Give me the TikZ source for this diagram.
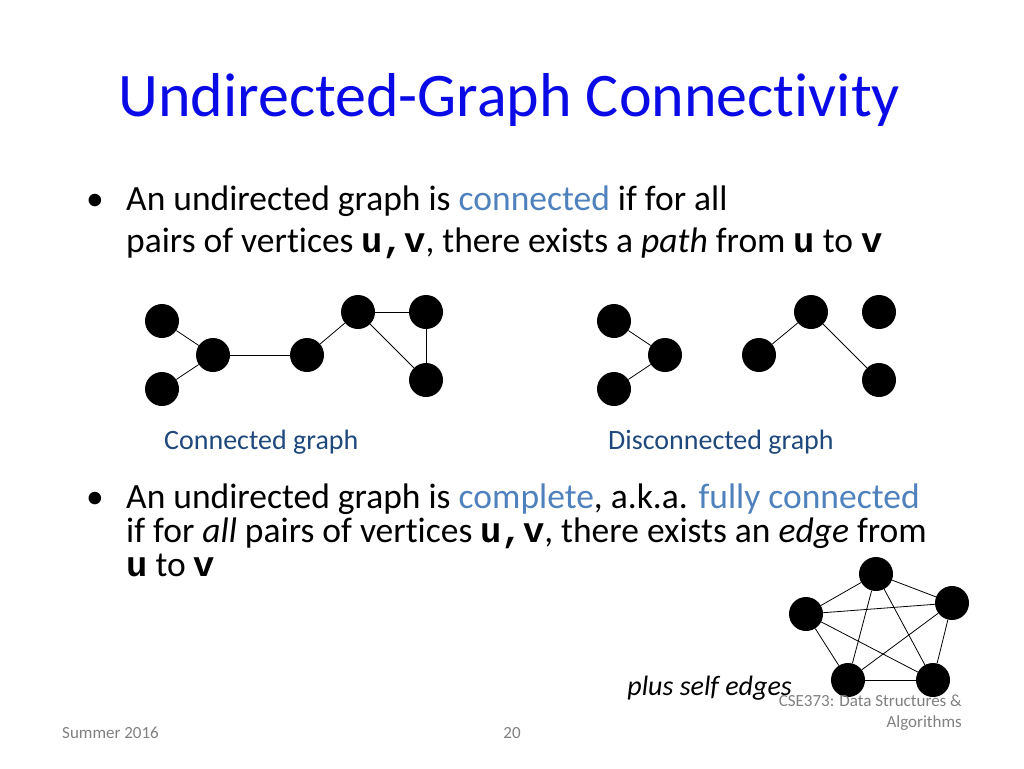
\documentclass[tikz,border=0pt]{standalone}
\usepackage{fontspec}
\setmainfont{Carlito}[Ligatures={NoCommon}]
\newfontfamily\courf{Liberation Mono}[BoldFont={* Bold}]
\definecolor{titleblue}{RGB}{10,10,230}
\definecolor{lblue}{RGB}{79,129,189}
\definecolor{dblue}{RGB}{31,73,125}
\begin{document}
\begin{tikzpicture}[x=1pt,y=-1pt,
  v/.style={circle,fill=black,minimum size=34pt,inner sep=0pt},
  body/.style={anchor=base west,inner sep=0pt,font=\fontsize{35.5}{40}\selectfont},
  lab/.style={anchor=base west,inner sep=0pt,text=dblue,font=\fontsize{28}{32}\selectfont},
  foot/.style={inner sep=0pt,text=gray,font=\fontsize{17}{21}\selectfont}]
\useasboundingbox (0,0) rectangle (1024,768);
\node[anchor=base west,inner sep=0pt,text=titleblue,font=\fontsize{62}{70}\selectfont] (title) at (118,116) {Undirected-Graph Connectivity};
\newcommand{\cd}[1]{{\courf\bfseries #1}}
\node[body] (b1) at (86,210) {•};
\node[body] (l1) at (126,210) {An undirected graph is \textcolor{lblue}{connected} if for all};
\node[body] (l2) at (126,252) {pairs of vertices \cd{u,v}, there exists a \textit{path} from \cd{u} to \cd{v}};
\foreach \n/\x/\y in {a/162/321,b/162/389,c/213/355,d/307/355,e/358/312,f/426/312,g/426/380,
 h/614/321,i/614/389,j/665/355,k/759/355,l/811/312,m/879/312,n/879/380,
 p/876/574,q/806/614,r/952/603,s/848/680,t/933/680}
 \node[v] (\n) at (\x,\y) {};
\foreach \u/\w in {a/c,b/c,c/d,d/e,e/f,e/g,f/g,h/j,i/j,k/l,l/n,p/q,p/r,p/s,p/t,q/r,q/s,q/t,r/s,r/t,s/t}
 \draw[line width=0.8pt] (\u) -- (\w);
\node[lab] (cg) at (164,449) {Connected graph};
\node[lab] (dg) at (608,449) {Disconnected graph};
\node[body] (b2) at (86,508) {•};
\node[body] (m1) at (126,508) {An undirected graph is \textcolor{lblue}{complete}, a.k.a. \textcolor{lblue}{fully connected}};
\node[body] (m2) at (126,542) {if for \textit{all} pairs of vertices \cd{u,v}, there exists an \textit{edge} from};
\node[body] (m3) at (126,576) {\cd{u} to \cd{v}};
\node[anchor=base east,inner sep=0pt,font=\itshape\fontsize{28}{32}\selectfont] (pse) at (792,695) {plus self edges};
\node[foot,anchor=base west] (f1) at (62,738) {Summer 2016};
\node[foot,anchor=base] (f2) at (512,738) {20};
\node[foot,anchor=base east,align=right] (f3) at (962,727) {CSE373: Data Structures \&\\Algorithms};
\end{tikzpicture}
\end{document}
